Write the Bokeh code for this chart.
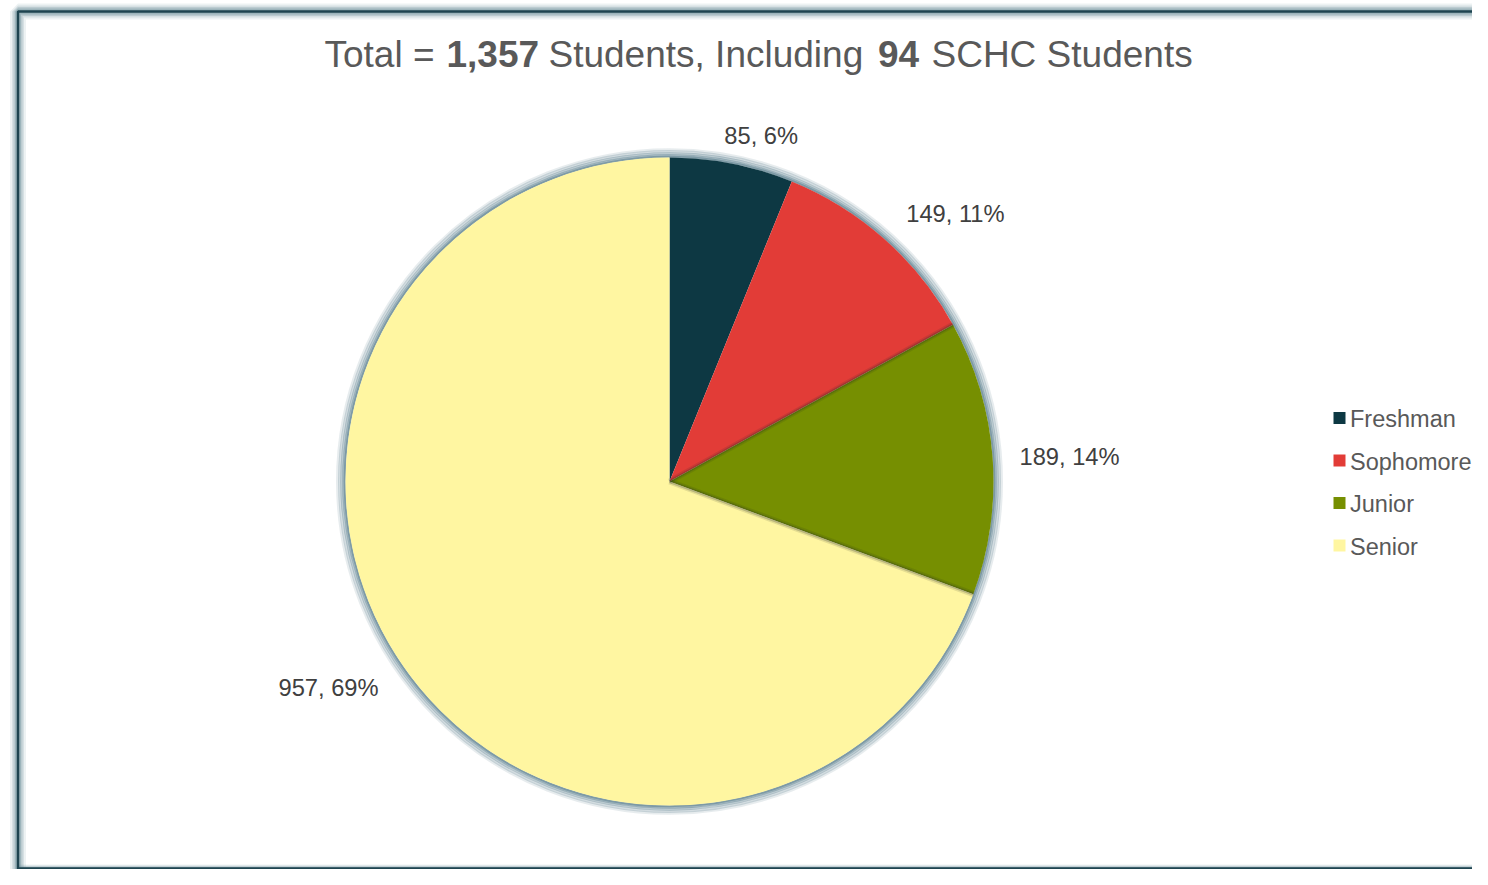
import math
from bokeh.plotting import figure
from bokeh.models import Range1d
from bokeh.core.properties import value
from bokeh.embed import file_html
from bokeh.resources import INLINE

# ---------------- data ----------------
categories = ["Freshman", "Sophomore", "Junior", "Senior"]
counts = [85, 149, 189, 957]
colors = ["#0D3843", "#E23C37", "#768F01", "#FFF6A1"]
title_parts = ["Total = ", "1,357", " Students, Including ", "94", " SCHC Students"]
title_bold = [False, True, False, True, False]

# ---------------- layout ----------------
W, H = 1472, 869
FONT = "Liberation Sans"


def px(x):  # screenshot x -> data x
    return x


def py(y):  # screenshot y -> data y
    return H - y


CX, CY, R = px(669), py(481), 324
LABEL_R = [350, 386.5, 400.4, 402.6]          # distance of label baseline-centre from pie centre
LABEL_NUDGE_DEG = [-4.1, -6.1, -1.9, -2.7]
LABEL_FS = 23.7
TITLE_FS = 37
TITLE_X = [434, 446, 548, 877.5, 931]   # anchor x of each title segment
TITLE_ALIGN = ["right", "left", "left", "left", "left"]
TITLE_BASE = 66
LEG_SQ_X, LEG_TXT_X, LEG_Y0, LEG_DY = 1339, 1349.5, 417.5, 42.5

p = figure(width=W, height=H, output_backend="svg", toolbar_location=None,
           x_range=Range1d(0, W), y_range=Range1d(0, H),
           x_axis_type=None, y_axis_type=None, match_aspect=False)
p.min_border = 0
p.min_border_left = p.min_border_right = p.min_border_top = p.min_border_bottom = 0
p.outline_line_color = None
p.grid.visible = False
p.background_fill_color = "white"
p.border_fill_color = "white"

# ---------------- frame with glow ----------------
fx, ftop, fbot = px(17.5), py(11), 1.0
frame_xs = [fx, fx, W + 20]
frame_ys = [-10, ftop, ftop]
for lw, a in [(16, 0.12), (12, 0.18), (9, 0.26), (6, 0.4)]:
    p.line(frame_xs, frame_ys, line_width=lw, line_color="#6F909C", line_alpha=a)
    p.line([fx, W + 20], [fbot, fbot], line_width=lw / 2, line_color="#6F909C", line_alpha=a)
p.line(frame_xs, frame_ys, line_width=2.5, line_color="#1E4450")
p.line([fx, W + 20], [fbot, fbot], line_width=2.5, line_color="#1E4450")

# ---------------- pie ----------------
total = sum(counts)
starts, ends, mids = [], [], []
cum = 0
for c in counts:
    a0 = math.pi / 2 - 2 * math.pi * cum / total
    cum += c
    a1 = math.pi / 2 - 2 * math.pi * cum / total
    starts.append(a0)
    ends.append(a1)
    mids.append((a0 + a1) / 2)

# outer glow
for dr, lw, a in [(8, 3, 0.18), (6, 3, 0.32), (4, 2.5, 0.5), (2, 2.5, 0.7), (0.8, 2, 0.9)]:
    p.circle(x=[CX], y=[CY], radius=R + dr, fill_color=None,
             line_color="#7896A2", line_width=lw, line_alpha=a)

p.wedge(x=[CX] * len(counts), y=[CY] * len(counts), radius=R,
        start_angle=starts, end_angle=ends, direction="clock",
        fill_color=colors, line_color=None)

# soft shadows along two inner boundaries
for i in (1, 2):
    ang = ends[i]
    for lw, a in [(6, 0.12), (3, 0.22)]:
        p.segment(x0=[CX], y0=[CY], x1=[CX + R * math.cos(ang)], y1=[CY + R * math.sin(ang)],
                  line_width=lw, line_color="#1E2A2A", line_alpha=a)

# data labels (placed by the vertical centre of the digits)
cap_shift = 0.358 * LABEL_FS - 1
lab_x, lab_y, lab_t = [], [], []
for i, c in enumerate(counts):
    ang = mids[i] + math.radians(LABEL_NUDGE_DEG[i])
    lab_x.append(CX + LABEL_R[i] * math.cos(ang))
    lab_y.append(CY + LABEL_R[i] * math.sin(ang) + cap_shift)
    lab_t.append(f"{c}, {round(100 * c / total)}%")
p.text(x=lab_x, y=lab_y, text=lab_t, text_font=value(FONT), text_font_size=f"{LABEL_FS}px",
       text_color="#404040", text_align="center", text_baseline="middle")

# ---------------- title ----------------
title_mid = py(TITLE_BASE) + 0.358 * TITLE_FS - 1
for i, part in enumerate(title_parts):
    p.text(x=[px(TITLE_X[i])], y=[title_mid], text=[part.strip()], text_font=value(FONT),
           text_font_size=f"{TITLE_FS}px", text_font_style="bold" if title_bold[i] else "normal",
           text_color="#595959", text_align=TITLE_ALIGN[i], text_baseline="middle")

# ---------------- legend ----------------
n = len(categories)
leg_y = [py(LEG_Y0 + k * LEG_DY) for k in range(n)]
p.scatter(x=[px(LEG_SQ_X)] * n, y=leg_y, marker="square", size=12,
          fill_color=colors, line_color=None)
p.text(x=[px(LEG_TXT_X)] * n, y=leg_y, text=categories, text_font=value(FONT),
       text_font_size="23.5px", text_color="#595959", text_align="left",
       text_baseline="middle", y_offset=1)

open("out.html", "w").write(file_html(p, INLINE))
